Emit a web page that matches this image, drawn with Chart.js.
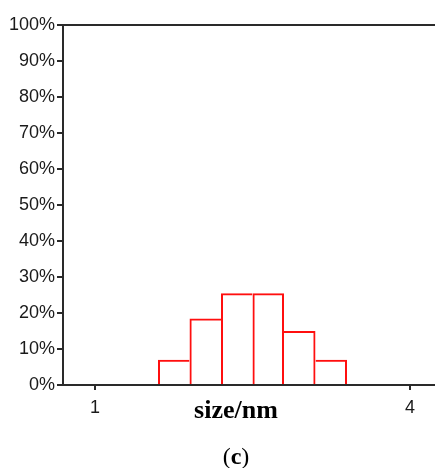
<!DOCTYPE html>
<html>
<head>
<meta charset="utf-8">
<script src="https://cdn.jsdelivr.net/npm/chart.js@4/dist/chart.umd.min.js"></script>
<style>
  html, body { margin: 0; padding: 0; background: #fff; }
  #wrap { position: relative; width: 435px; height: 468px; overflow: hidden; }
  #c { position: absolute; left: 0; top: 0; }
  .xtitle { position: absolute; left: 149px; width: 174px; top: 395px; text-align: center;
    font-family: 'Liberation Serif', 'Times New Roman', serif; font-weight: bold; font-size: 26px; color: #000; line-height: 30px; }
  .caption { position: absolute; left: 149px; width: 174px; top: 442px; text-align: center;
    font-family: 'Liberation Serif', 'Times New Roman', serif; font-size: 24px; color: #000; line-height: 28px; }
</style>
</head>
<body>
<div id="wrap">
  <canvas id="c" width="435" height="468"></canvas>
  <div class="xtitle">size/nm</div>
  <div class="caption">(<b>c</b>)</div>
</div>
<script>
// Histogram bin edges (nm) and percentage in each bin
const binEdges = [1.6, 1.9, 2.2, 2.5, 2.8, 3.1, 3.4];
const binPercent = [7, 18.5, 25.5, 25.5, 15, 7];
// Axis ticks
const xTickValues = [1, 4];
const yTickLabels = ['0%', '10%', '20%', '30%', '40%', '50%', '60%', '70%', '80%', '90%', '100%'];

const points = binPercent.map((v, i) => ({ x: (binEdges[i] + binEdges[i + 1]) / 2, y: v }));

const tickFont = { family: "'Liberation Sans', Arial, sans-serif", size: 18 };
const lineColor = '#2a2a2a';

const topLine = {
  id: 'topLine',
  afterDraw(chart) {
    const { ctx, chartArea } = chart;
    ctx.save();
    ctx.strokeStyle = lineColor;
    ctx.lineWidth = 2;
    ctx.beginPath();
    ctx.moveTo(chartArea.left - 1, chartArea.top);
    ctx.lineTo(chartArea.right, chartArea.top);
    ctx.stroke();
    ctx.restore();
  }
};

new Chart(document.getElementById('c'), {
  type: 'bar',
  data: {
    datasets: [{
      data: points,
      backgroundColor: 'rgba(0,0,0,0)',
      borderColor: '#ff0f0f',
      borderWidth: (ctx) => {
        const i = ctx.dataIndex;
        const cur = binPercent[i];
        const prev = binPercent[i - 1];
        const next = binPercent[i + 1];
        return {
          top: 2,
          left: (prev === undefined || prev <= cur) ? 2 : 0,
          right: (next === undefined || next < cur) ? 2 : 0,
          bottom: 0
        };
      },
      barPercentage: 1,
      categoryPercentage: 1,
      inflateAmount: 0
    }]
  },
  options: {
    responsive: false,
    animation: false,
    layout: { padding: { top: 25, left: 0, right: 0, bottom: 0 } },
    plugins: { legend: { display: false }, tooltip: { enabled: false } },
    scales: {
      x: {
        type: 'linear',
        min: 0.6952,
        max: 4.238,
        offset: false,
        afterFit: (s) => { s.height = 83; },
        afterBuildTicks: (s) => { s.ticks = xTickValues.map(v => ({ value: v })); },
        grid: { offset: false, drawOnChartArea: false, drawTicks: true, tickLength: 5, color: lineColor, lineWidth: 2 },
        border: { display: true, color: lineColor, width: 2 },
        ticks: { font: tickFont, color: '#1a1a1a', padding: 7, maxRotation: 0, autoSkip: false,
          callback: (v) => String(v) }
      },
      y: {
        min: 0,
        max: 100,
        afterFit: (s) => { s.width = 63; },
        afterBuildTicks: (s) => { s.ticks = yTickLabels.map((t, i) => ({ value: i * 10 })); },
        grid: { drawOnChartArea: false, drawTicks: true, tickLength: 6, color: lineColor, lineWidth: 2 },
        border: { display: true, color: lineColor, width: 2 },
        ticks: { font: tickFont, color: '#1a1a1a', padding: 2,
          callback: (v, i) => yTickLabels[i] }
      }
    }
  },
  plugins: [topLine]
});
</script>
</body>
</html>
